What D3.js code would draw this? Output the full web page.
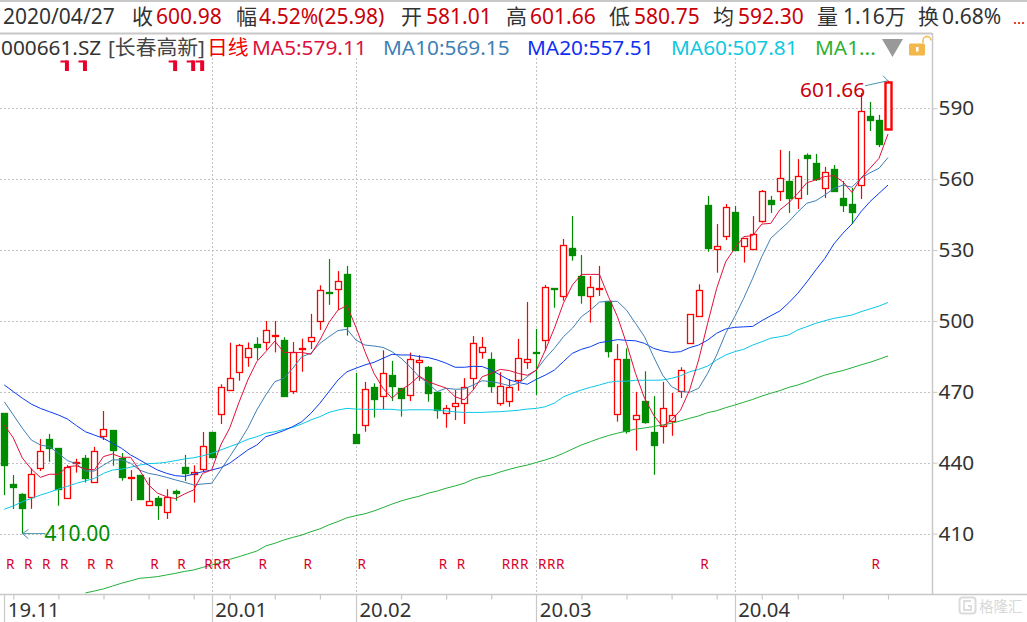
<!DOCTYPE html>
<html><head><meta charset="utf-8">
<script src="https://cdn.jsdelivr.net/npm/d3@7/dist/d3.min.js"></script>
<style>html,body{margin:0;padding:0;background:#fff;overflow:hidden}svg{display:block}text{font-family:"Noto Sans","Noto Sans CJK SC",sans-serif}</style>
</head><body><svg id="c" width="1027" height="622"></svg>
<script>
// [open, high, low, close] per trading day
const candles = [
[461.0,461.0,426.3,439.0],[430.9,434.8,420.4,429.7],[426.8,427.1,410,420.9],[425.2,437.6,420.5,435.1],[437.5,450.0,436.5,444.8],
[449.9,452.2,440.4,446.2],[446.2,446.2,421.8,429.0],[424.9,439.0,424.9,438.2],[440.0,441.7,435.8,440.4],[442.0,443.3,431.6,433.7],
[431.7,446.7,431.7,444.8],[451.6,461.9,449.6,454.4],[453.7,453.7,438.7,445.1],[442.0,444.1,432.4,434.1],[433.2,436.9,423.8,433.8],
[434.8,434.8,424.2,424.7],[422.2,433.8,422.2,423.7],[425.1,425.9,415.8,422.2],[419.0,428.8,416.2,425.3],[427.9,428.6,423.9,426.9],
[438.1,443.3,432.3,435.5],[435.1,438.9,423.1,435.9],[437.2,453.0,436.0,446.9],[453.0,453.0,442.6,442.6],[460.5,473.2,456.4,471.9],
[470.7,490.8,470.7,475.7],[478.3,490.3,474.7,489.7],[484.6,490.9,480.6,488.4],[490.1,493.1,483.5,488.7],[490.9,500.0,487.7,496.0],
[493.6,500.0,486.7,494.1],[492.0,493.1,468.4,468.4],[470.2,491.1,469.1,486.7],[488.1,492.5,478.5,488.4],[491.4,503.0,488.1,493.1],
[499.9,515.1,496.2,513.0],[512.3,526.2,506.8,512.0],[513.4,521.1,504.6,516.8],[519.9,523.3,493.8,498.0],[452.2,478.0,448.5,448.5],
[455.8,474.2,453.1,471.1],[471.9,473.6,459.1,466.7],[468.1,487.6,462.7,477.8],[477.1,483.1,466.1,472.6],[471.6,471.6,459.5,467.5],
[468.5,486.6,466.1,483.8],[482.5,485.6,474.7,483.3],[480.5,480.9,465.8,469.6],[469.9,469.9,458.6,462.3],[461.3,464.4,454.8,463.3],
[464.1,470.8,458.1,465.2],[465.2,475.8,456.4,472.1],[475.7,493.6,470.8,490.5],[486.7,493.2,484.0,488.8],[483.9,486.7,469.6,472.6],
[465.0,478.3,464.1,472.3],[466.0,475.4,463.7,471.9],[475.1,492.4,470.4,484.2],[482.5,508.0,479.7,483.8],[486.7,496.6,468.7,486.1],
[491.8,515.2,487.4,514.2],[513.8,513.8,505.6,513.2],[510.3,534.7,508.6,532.0],[530.9,544.4,525.5,528.0],[519.0,527.9,507.3,511.1],
[510.4,519.0,499.3,514.2],[513.2,523.3,510.6,513.8],[508.3,508.3,484.5,487.0],[460.5,490.2,457.4,483.8],[483.9,488.4,452.3,453.3],
[458.4,470.0,445.1,460.1],[466.1,478.7,456.5,457.4],[453.0,468.2,434.9,447.6],[455.4,474.2,448.1,463.0],[457.4,469.5,451.4,460.0],
[470.2,480.4,467.4,479.1],[490.6,502.8,490.6,502.8],[502.1,515.5,502.1,513.0],[549.1,552.9,529.3,531.0],[530.2,541.0,520.4,531.6],
[535.8,549.5,534.3,548.1],[546.1,548.7,530.0,530.0],[531.4,534.9,524.7,534.9],[530.2,544.4,530.2,536.7],[542.4,555.4,541.6,554.9],
[551.2,552.9,545.7,549.6],[554.7,572.4,550.8,560.4],[559.1,571.9,545.7,551.7],[551.9,568.5,547.4,561.2],[570.2,570.9,553.3,569.1],
[566.8,570.7,559.2,559.9],[556.2,565.2,552.0,562.9],[564.3,566.0,554.7,555.1],[552.0,559.2,546.1,549.2],[549.5,556.3,541.0,546.2],
[557.4,596.5,551.6,588.7],[586.7,592.7,580.4,585.2],[585.0,587.2,573.6,575.0],[581.01,601.66,580.75,600.98]];

const ma5 = [456.0,450.5,442.0,437.3,433.8,435.1,435.1,438.3,438.7,437.3,437.0,442.6,443.7,442.3,442.3,436.9,430.6,427.1,425.6,424.8,
426.8,428.5,435.5,436.9,447.5,454.7,465.3,475.0,482.8,487.0,491.5,486.7,486.6,486.7,485.9,491.9,499.3,504.6,506.5,497.3,
487.0,477.8,471.5,467.3,470.8,473.3,476.7,474.3,472.9,471.6,467.9,466.6,470.8,476.4,477.8,479.5,479.0,477.8,477.0,479.2,
487.7,496.9,507.5,515.2,519.7,519.7,519.7,510.3,501.8,490.5,477.8,467.3,460.2,455.3,458.1,462.3,470.8,483.5,499.0,513.8,
525.1,530.7,535.7,536.1,541.0,541.3,547.0,550.0,554.0,558.5,559.7,561.1,561.5,558.9,554.4,560.4,564.6,568.8,579.11];
const ma10 = [465.8,460.2,454.6,449.6,447.5,446.8,444.0,440.9,439.5,436.5,436.5,439.0,441.2,441.2,439.8,436.9,435.5,434.8,433.8,432.7,
431.7,430.6,431.0,431.3,436.9,442.6,448.4,454.6,462.3,468.7,474.3,475.7,480.0,484.9,486.3,490.5,493.3,495.9,496.5,491.9,
489.8,489.4,488.8,487.0,484.2,480.6,476.4,473.6,470.1,471.5,471.1,471.2,472.9,474.7,474.3,473.6,472.6,473.6,476.4,479.2,
484.2,488.4,493.3,496.9,501.8,504.6,508.0,508.3,508.3,504.6,499.0,493.3,484.9,477.1,472.2,470.2,469.8,471.5,477.8,485.6,
494.8,501.8,509.6,518.1,527.2,535.0,538.5,542.0,546.2,549.8,550.9,553.3,556.1,557.5,556.6,560.4,562.7,564.6,569.15];
const ma20 = [472.9,470.1,467.3,464.8,463.0,461.6,460.2,458.5,455.7,453.1,451.7,450.3,448.2,446.1,443.3,441.2,439.0,436.9,435.5,434.5,
434.2,435.2,436.2,436.9,437.9,439.8,442.6,445.4,447.5,451.0,452.2,453.6,455.3,457.4,460.9,465.2,470.1,475.0,478.5,480.0,
481.4,482.5,484.2,485.9,485.6,485.6,484.9,484.5,483.5,482.1,480.4,480.4,480.8,480.7,479.2,477.1,475.0,474.0,473.2,475.3,
477.1,479.2,482.8,486.3,488.0,489.1,490.8,491.4,492.1,491.8,491.6,490.5,488.4,487.3,486.7,487.0,488.7,489.8,491.9,494.8,
496.6,497.3,497.5,497.7,500.1,502.2,504.2,507.7,511.7,516.5,521.6,526.5,532.6,537.1,541.0,546.2,550.5,554.0,557.51];
const ma60 = [420.3,421.7,423.5,424.9,426.3,427.5,428.8,430.0,431.3,432.3,433.4,435.5,436.9,437.3,438.1,439.0,439.6,439.8,440.2,440.9,
441.6,442.1,442.9,444.0,445.4,446.8,448.2,449.9,451.0,452.5,453.1,454.1,455.0,456.4,458.1,459.5,461.3,462.3,463.0,462.7,
462.6,462.6,462.6,462.6,462.2,462.4,462.4,462.4,462.3,461.9,461.5,461.3,461.3,461.3,461.5,461.6,461.9,462.2,462.7,463.0,
463.7,465.2,467.9,469.4,470.8,471.9,472.9,474.0,474.5,474.5,474.9,474.9,474.9,475.0,475.7,476.8,478.5,479.5,480.9,483.5,
485.6,487.0,488.0,489.8,491.2,492.7,493.3,494.1,496.2,497.6,499.0,500.1,501.1,501.8,502.5,503.9,505.1,506.3,507.81];
const ma120Start = 9;
const ma120 = [384.9,385.7,386.6,387.8,389.0,390.0,391.1,391.4,391.8,392.5,393.2,394.0,394.6,395.7,396.7,397.8,399.1,400.2,401.4,402.6,
404.8,405.9,407.3,408.4,409.4,410.8,412.0,413.7,415.1,416.7,417.6,418.4,419.6,421.0,422.5,423.8,424.9,425.8,427.1,428.0,
429.2,430.2,431.3,433.0,434.1,434.8,436.1,437.2,438.2,439.0,440.1,441.2,442.4,444.0,445.8,447.5,448.9,450.3,451.5,452.5,
453.4,454.2,454.7,455.3,456.0,456.7,457.7,458.8,459.8,461.2,462.0,463.3,464.4,465.6,466.8,468.2,469.4,470.5,471.9,472.9,
474.2,475.7,477.1,478.1,479.0,480.2,481.4,482.5,483.8,485.2];

const yTicks = [410,440,470,500,530,560,590];
const monthIdx = [0,23,39,59,81];
const monthLabels = ["19.11","20.01","20.02","20.03","20.04"];
const minorTicks = [1,6,11,16,21,25,30,35,44,49,54,64,69,74,79,84,88,93,98];
const rDays = [0,2,4,6,9,11,16,19,22,23,24,28,33,39,48,50,55,56,57,59,60,61,77,96];
const topMarks = [7,9,19,21,22];
const lowIdx = 2, highIdx = 98, lowVal = "410.00", highVal = "601.66";
const header = [["2020/04/27",3,"#333",21],["收",132,"#333",21],["600.98",156,"#c8000a",21],["幅",236,"#333",21],["4.52%(25.98)",259,"#c8000a",21],
["开",401,"#333",21],["581.01",426,"#c8000a",21],["高",506,"#333",21],["601.66",530,"#c8000a",21],["低",609,"#333",21],["580.75",634,"#c8000a",21],
["均",713,"#333",21],["592.30",738,"#c8000a",21],["量",817,"#333",21],["1.16万",843,"#333",21],["换",918,"#333",21],["0.68%",942,"#333",21],["...",1013,"#c8000a",15]];
const legend = [["000661.SZ",1,"#333"],["[长春高新]",108,"#444"],["日线",207,"#f00000"],["MA5:579.11",252,"#dc1040"],["MA10:569.15",383,"#3f7fb5"],
["MA20:557.51",527,"#1030f0"],["MA60:507.81",671,"#10c8e0"],["MA1...",815,"#30b030"]];

const RED="#ff0000", GREEN="#008c00", GRID="#c2c2c2", AXIS="#c8c8c8";
const x = d3.scaleLinear().domain([0,98]).range([4.3,888]);
const y = d3.scaleLinear().domain([410,590]).range([533.6,108.3]);
const px = v => Math.round(x(v))+0.5;
const svg = d3.select("#c");

// frame
const frame = svg.append("g").attr("stroke",AXIS).attr("fill","none");
frame.append("line").attr("x1",0).attr("x2",1027).attr("y1",1).attr("y2",1).attr("stroke-width",2);
frame.append("line").attr("x1",0).attr("x2",932).attr("y1",33.5).attr("y2",33.5).attr("stroke-width",2);
frame.append("line").attr("x1",932.5).attr("x2",932.5).attr("y1",33).attr("y2",595).attr("stroke-width",1.5);
frame.append("line").attr("x1",0).attr("x2",1027).attr("y1",594.5).attr("y2",594.5).attr("stroke-width",1.5);

// grid
const grid = svg.append("g").attr("stroke",GRID).attr("stroke-dasharray","2 2").attr("stroke-width",1);
grid.selectAll(".h").data(yTicks).join("line").attr("x1",0).attr("x2",932)
  .attr("y1",d=>Math.round(y(d))+0.5).attr("y2",d=>Math.round(y(d))+0.5);
grid.selectAll(".v").data(monthIdx.slice(1)).join("line").attr("x1",px).attr("x2",px).attr("y1",58).attr("y2",594);

// y axis
const yAxis = svg.append("g").attr("transform","translate(932.5,0)")
  .call(d3.axisRight(y).tickValues(yTicks).tickSize(5).tickPadding(1));
yAxis.select(".domain").remove();
yAxis.selectAll("line").attr("stroke",AXIS);
yAxis.selectAll("text").attr("fill","#333").attr("font-size",20.8).style("font-family",'"Noto Sans"');

// x axis
const xAxis = svg.append("g").attr("transform","translate(0,594.5)")
  .call(d3.axisBottom(x).tickValues(minorTicks).tickSize(5).tickFormat(""));
xAxis.select(".domain").remove();
xAxis.selectAll("line").attr("stroke",AXIS).attr("stroke-width",1.2);
const months = svg.append("g");
months.selectAll("line").data(monthIdx).join("line").attr("x1",px).attr("x2",px).attr("y1",594).attr("y2",622).attr("stroke",AXIS).attr("stroke-width",1.2);
months.selectAll("text").data(monthIdx).join("text").attr("x",d=>x(d)+3.5).attr("y",616.5)
  .attr("font-size",20.3).attr("fill","#333").text((d,i)=>monthLabels[i]);

// clip
svg.append("clipPath").attr("id","plot").append("rect").attr("x",0).attr("y",58).attr("width",932).attr("height",536);
const plot = svg.append("g").attr("clip-path","url(#plot)");

// candles
const cg = plot.selectAll(".c").data(candles).join("g");
const isUp = d => d[3]>=d[0];
cg.append("line").attr("x1",(d,i)=>px(i)).attr("x2",(d,i)=>px(i)).attr("y1",d=>y(d[1])).attr("y2",d=>y(d[2]))
  .attr("stroke",d=>isUp(d)?RED:GREEN).attr("stroke-width",1.2);
cg.append("rect").attr("x",(d,i)=>px(i)-3).attr("width",6)
  .attr("y",d=>Math.round(y(Math.max(d[0],d[3])))+0.5)
  .attr("height",d=>Math.max(1,Math.round(Math.abs(y(d[0])-y(d[3])))))
  .attr("fill",d=>isUp(d)?"#fff":GREEN)
  .attr("stroke",d=>isUp(d)?RED:GREEN)
  .attr("stroke-width",(d,i)=>i===98?2.4:1.3);

// moving averages
const lineGen = d3.line().x(d=>x(d[0])).y(d=>y(d[1]));
[[ma120,"#22b03a",ma120Start],[ma60,"#0ac8e6",0],[ma20,"#0a3cf0",0],[ma10,"#3f7fb5",0],[ma5,"#e0103c",0]].forEach(([arr,col,start])=>{
  plot.append("path").attr("fill","none").attr("stroke",col).attr("stroke-width",1)
    .attr("d",lineGen(arr.map((v,i)=>[i+start,v])));
});

// top clipped markers
const tm = svg.append("g").attr("fill","#e8002c");
tm.selectAll(".v").data(topMarks).join("rect").attr("x",d=>x(d)-2.5).attr("width",4).attr("y",60.5).attr("height",10.5);
svg.append("g").attr("stroke","#e8002c").attr("stroke-width",2).selectAll("line").data(topMarks).join("line")
  .attr("x1",d=>x(d)-7).attr("x2",d=>x(d)).attr("y1",61.5).attr("y2",61.5);

// R marks
svg.append("g").selectAll("text").data(rDays).join("text").attr("x",d=>x(d)+1.6).attr("y",569)
  .attr("font-size",13.5).attr("fill","#d8002a").text("R");

// low / high callouts
const cc="#4a93ad";
const lx=x(lowIdx), ly=y(410);
const an = svg.append("g").attr("stroke",cc).attr("fill","none").attr("stroke-width",1);
an.append("path").attr("d",`M${lx+23},${ly}H${lx}M${lx+6},${ly-4}L${lx},${ly}L${lx+6},${ly+5}`);
const hx=x(highIdx), hy=y(601.66);
an.append("path").attr("d",`M${hx-23},${hy+5}L${hx},${hy}M${hx-5},${hy-5}L${hx},${hy}`);
svg.append("text").attr("x",44.5).attr("y",ly+7).attr("font-size",21).attr("fill","#008c00").text(lowVal);
svg.append("text").attr("x",800).attr("y",96.5).attr("font-size",20.8).attr("fill","#c8000a").text(highVal);

// header + legend rows
svg.append("g").selectAll("text").data(header).join("text").attr("x",d=>d[1]).attr("y",23.5)
  .attr("font-size",d=>d[3]).attr("fill",d=>d[2]).text(d=>d[0]);
svg.append("g").selectAll("text").data(legend).join("text").attr("x",d=>d[1]).attr("y",55)
  .attr("font-size",20.8).attr("fill",d=>d[2]).text(d=>d[0]);

// triangle + lock
svg.append("path").attr("d","M882,39H903L892.5,57Z").attr("fill","#999");
svg.append("rect").attr("x",909).attr("y",43.5).attr("width",16).attr("height",12).attr("rx",1.5).attr("fill","#f2b84b");
svg.append("rect").attr("x",916).attr("y",47).attr("width",2.5).attr("height",4.5).attr("fill","#fff");
svg.append("path").attr("d","M923,43V40.5A4,4 0 0 1 931,40.5").attr("fill","none").attr("stroke","#f2b84b").attr("stroke-width",1.4);

// watermark
const wm = svg.append("g");
wm.append("rect").attr("x",959.5).attr("y",597.5).attr("width",16).attr("height",16).attr("rx",3).attr("fill","none").attr("stroke","#dcdcdc").attr("stroke-width",2);
wm.append("path").attr("d","M971,601H964V610H971V606H968").attr("fill","none").attr("stroke","#dcdcdc").attr("stroke-width",1.8);
wm.append("text").attr("x",979).attr("y",612).attr("font-size",14.5).attr("fill","#d8d8d8").style("font-family",'"Noto Sans CJK SC"').text("格隆汇");
</script></body></html>
